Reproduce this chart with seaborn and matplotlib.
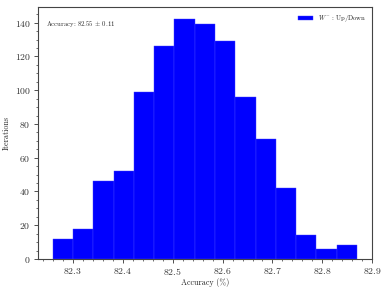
import numpy as np
import pandas as pd
import seaborn as sns
import matplotlib.pyplot as plt
from matplotlib.ticker import AutoMinorLocator

# histogram counts (1000 iterations)
counts = [12, 18, 46, 52, 99, 126, 142, 139, 129, 96, 71, 42, 14, 6, 8]
acc_min = 82.26
acc_max = 82.869
mean_acc = 82.55
std_acc = 0.11
label = r"$W^{-}$ : Up/Down"

edges = np.linspace(acc_min, acc_max, len(counts) + 1)
centers = (edges[:-1] + edges[1:]) / 2
df = pd.DataFrame({"Accuracy": centers, "n": counts})

sns.set_style("ticks")
plt.rcParams["font.family"] = ["cmr10", "DejaVu Serif"]
plt.rcParams["mathtext.fontset"] = "cm"
plt.rcParams["axes.formatter.use_mathtext"] = True
plt.rcParams["axes.unicode_minus"] = False

fig, ax = plt.subplots(figsize=(3.89, 2.92), dpi=100)
fig.subplots_adjust(left=0.097, right=0.957, top=0.975, bottom=0.113)

sns.histplot(data=df, x="Accuracy", weights="n", bins=len(counts),
             binrange=(acc_min, acc_max), color="blue", alpha=1,
             edgecolor="#4040ff", linewidth=0.3, label=label, ax=ax)

ax.text(0.025, 0.955, r"Accuracy: %.2f $\pm$ %.2f" % (mean_acc, std_acc),
        transform=ax.transAxes, fontsize=4.8, va="top", ha="left")
ax.legend(loc="upper right", frameon=False, fontsize=4.8, handlelength=2.2,
          handleheight=0.6)

ax.set_xlabel("Accuracy (%)", fontsize=5.8, labelpad=1)
ax.set_ylabel("Iterations", fontsize=5.8, labelpad=3)
ax.tick_params(axis="both", which="major", labelsize=7, length=3, width=0.6,
               direction="out", pad=2, colors="#333333", labelcolor="#333333")
ax.tick_params(axis="both", which="minor", length=1.5, width=0.5, colors="#333333")
ax.xaxis.set_minor_locator(AutoMinorLocator(5))
ax.yaxis.set_minor_locator(AutoMinorLocator(4))
ax.set_xticks([82.3, 82.4, 82.5, 82.6, 82.7, 82.8, 82.9])
for s in ax.spines.values():
    s.set_visible(True)
    s.set_color("#444444")
    s.set_linewidth(0.8)

plt.savefig("out.png", dpi=100)
